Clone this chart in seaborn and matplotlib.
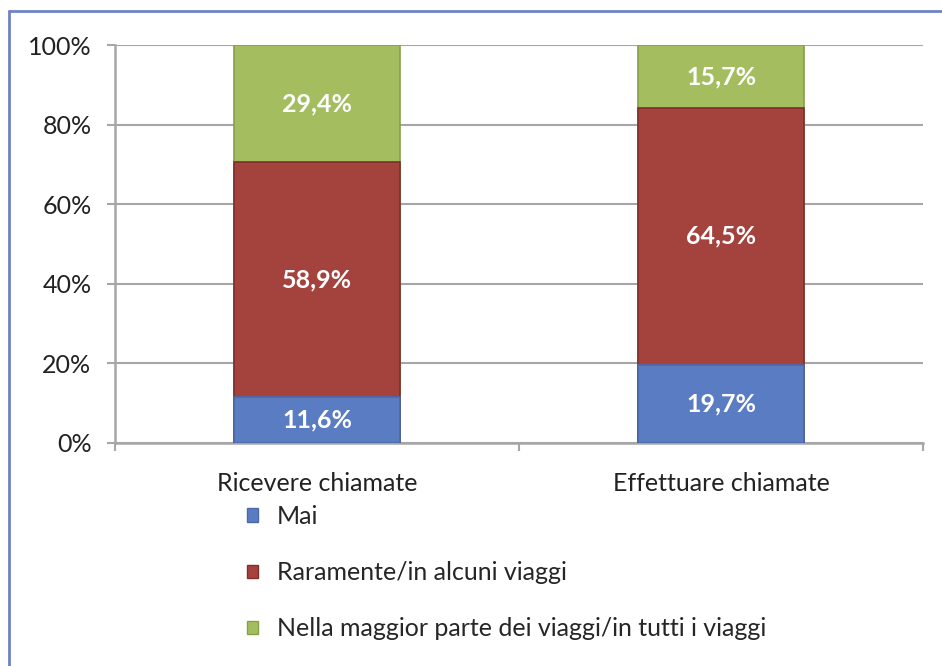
import matplotlib
matplotlib.use("Agg")
import matplotlib.pyplot as plt
import seaborn as sns
import pandas as pd
import numpy as np
from matplotlib.lines import Line2D
from matplotlib.patches import Patch

categories = ["Ricevere chiamate", "Effettuare chiamate"]
series_names = ["Mai", "Raramente/in alcuni viaggi",
                "Nella maggior parte dei viaggi/in tutti i viaggi"]
mai = [11.6, 19.7]
raramente = [58.9, 64.5]
maggior = [29.4, 15.7]
value_labels = [["11,6%", "19,7%"], ["58,9%", "64,5%"], ["29,4%", "15,7%"]]
yticks = [0, 20, 40, 60, 80, 100]
ytick_labels = ["0%", "20%", "40%", "60%", "80%", "100%"]

colors = ["#5A7CC2", "#A4423E", "#A3BD5F"]
edge_colors = ["#4A69A8", "#7E2F2B", "#86A048"]

sns.set_theme(style="white")
plt.rcParams["font.family"] = ["Lato", "DejaVu Sans"]

fig = plt.figure(figsize=(9.42, 6.66), dpi=100)
ax = fig.add_axes([115/942, 1-443/666, (923-115)/942, (443-45)/666])

layers = [mai, raramente, maggior]
cum = np.cumsum(np.array(layers), axis=0)
# draw tallest first so lower layers overlay
for i in reversed(range(3)):
    df = pd.DataFrame({"cat": categories, "val": cum[i]})
    sns.barplot(data=df, x="cat", y="val", color=colors[i], ax=ax,
                width=0.41, saturation=1, edgecolor=edge_colors[i],
                linewidth=1.2, zorder=3)

# labels
for i in range(3):
    for j in range(2):
        bottom = cum[i][j] - layers[i][j]
        ax.text(j, bottom + layers[i][j]/2, value_labels[i][j], ha="center",
                va="center", color="white", fontsize=18, fontweight="bold",
                zorder=5)

ax.set_ylim(0, 100)
ax.set_xlim(-0.5, 1.5)
ax.set_yticks(yticks)
ax.set_yticklabels(ytick_labels, fontsize=18, color="#222222")
ax.set_xticks([0, 1])
ax.set_xticklabels(categories, fontsize=18, color="#222222")
ax.set_xticks([-0.5, 0.5, 1.5], minor=True)
ax.set_xlabel("")
ax.set_ylabel("")
ax.yaxis.grid(True, color="#A6A6A6", linewidth=1.5, zorder=0)
ax.set_axisbelow(True)
for s in ["top", "right"]:
    ax.spines[s].set_visible(False)
for s in ["left", "bottom"]:
    ax.spines[s].set_color("#A6A6A6")
    ax.spines[s].set_linewidth(1.8)
ax.tick_params(axis="y", which="major", left=True, length=6, width=1.5,
               color="#A6A6A6", pad=11)
ax.tick_params(axis="x", which="major", bottom=False, length=0, pad=21)
ax.tick_params(axis="x", which="minor", bottom=True, length=6, width=1.5,
               color="#A6A6A6")

handles = [Patch(facecolor=colors[i], edgecolor=edge_colors[i]) for i in range(3)]
fig.legend(handles, series_names, loc="upper left",
           bbox_to_anchor=(247/942, 1-505/666), frameon=False, fontsize=18,
           handlelength=0.45, handleheight=0.45, handletextpad=0.75,
           labelspacing=1.33, borderpad=0, borderaxespad=0)

# figure border (top & left)
fig.add_artist(Line2D([9/942, 9/942], [0, 1-11/666], transform=fig.transFigure,
                      color="#6E83C8", linewidth=2))
fig.add_artist(Line2D([9/942, 1], [1-11/666, 1-11/666], transform=fig.transFigure,
                      color="#6E83C8", linewidth=2))

fig.savefig("out.png", dpi=100)
